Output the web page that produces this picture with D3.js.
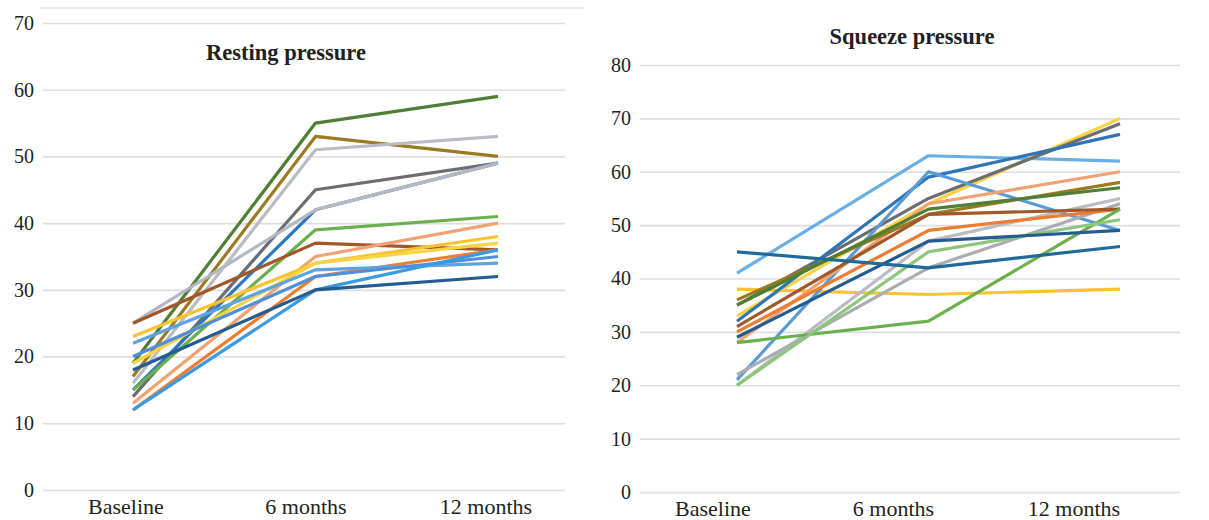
<!DOCTYPE html>
<html>
<head>
<meta charset="utf-8">
<script src="https://cdn.jsdelivr.net/npm/d3@7"></script>
<style>
  body { margin: 0; background: #fff; }
  svg { display: block; }
</style>
</head>
<body>
<svg id="chart" width="1209" height="520"></svg>
<script>
// categories (x axis)
var categories = ["Baseline", "6 months", "12 months"];

// resting pressure, one array per patient line
var restingValues = [
  [19, 55, 59], [17, 53, 50], [16, 51, 53], [14, 45, 49], [15, 42, 49],
  [25, 42, 49], [15, 39, 41], [25, 37, 36], [13, 35, 40], [23, 34, 38],
  [19, 34, 37], [12, 32, 36], [22, 33, 34], [20, 32, 35], [12, 30, 36],
  [18, 30, 32]
];
var restingColors = [
  "#4f7f34", "#9b7a22", "#b9bcc2", "#6b6e70", "#2a78c2",
  "#b3b8c2", "#6cb04e", "#a0582a", "#f0a274", "#f9c22e",
  "#fcd142", "#ed7d31", "#5ea3e0", "#4f8fd6", "#3a9be0",
  "#245c92"
];
var restingTicks = [0, 10, 20, 30, 40, 50, 60, 70];

// squeeze pressure
var squeezeValues = [
  [41, 63, 62], [38, 37, 38], [33, 54, 70], [35, 55, 69], [32, 59, 67],
  [21, 60, 49], [28, 54, 60], [36, 52, 58], [35, 53, 57], [20, 47, 55],
  [22, 42, 54], [30, 49, 53], [31, 52, 53], [28, 32, 53], [20, 45, 51],
  [29, 47, 49], [45, 42, 46]
];
var squeezeColors = [
  "#6aaee6", "#f9c22e", "#fcd142", "#6b6e70", "#2e75b6",
  "#5b9bd5", "#f0a274", "#9b7a22", "#4f7f34", "#b9bcc2",
  "#a9adb3", "#ed7d31", "#a0582a", "#6cb04e", "#8cc67a",
  "#245c92", "#1f6a98"
];
var squeezeTicks = [0, 10, 20, 30, 40, 50, 60, 70, 80];

var svg = d3.select("#chart");
var fontFam = "'Liberation Serif', 'DejaVu Serif', serif";

function drawLineChart(o) {
  var g = svg.append("g");

  var y = d3.scaleLinear().domain([0, o.max]).range([o.bottom, o.top]);
  var x = d3.scalePoint().domain(categories).range(o.xRange);
  // category labels sit a bit left of the points in the original
  var xLab = d3.scalePoint().domain(categories).range(o.labelRange);

  // gridlines + tick labels
  var yAxis = d3.axisLeft(y)
    .tickValues(o.ticks)
    .tickSize(-(o.gridRight - o.gridLeft))
    .tickPadding(9);

  g.append("g")
    .attr("transform", "translate(" + o.gridLeft + ",0)")
    .call(yAxis)
    .call(function(a) {
      a.select(".domain").remove();
      a.selectAll(".tick line").attr("stroke", "#dcdde1").attr("stroke-width", 1.6);
      a.selectAll(".tick text")
        .attr("fill", "#231f20")
        .style("font-family", fontFam)
        .style("font-size", "20px");
    });

  // x labels
  g.append("g")
    .selectAll("text")
    .data(categories)
    .enter()
    .append("text")
    .attr("x", function(d) { return xLab(d); })
    .attr("y", o.bottom + 24)
    .attr("text-anchor", "middle")
    .attr("fill", "#231f20")
    .style("font-family", fontFam)
    .style("font-size", "22px")
    .text(function(d) { return d; });

  // title
  g.append("text")
    .attr("x", o.titleX)
    .attr("y", o.titleY)
    .attr("text-anchor", "middle")
    .attr("fill", "#231f20")
    .style("font-family", fontFam)
    .style("font-size", "22.5px")
    .style("font-weight", "bold")
    .text(o.title);

  var line = d3.line()
    .x(function(d, i) { return x(categories[i]); })
    .y(function(d) { return y(d); });

  g.append("g")
    .selectAll("path")
    .data(o.values)
    .enter()
    .append("path")
    .attr("d", line)
    .attr("fill", "none")
    .attr("stroke", function(d, i) { return o.colors[i]; })
    .attr("stroke-width", 3.2)
    .attr("stroke-linejoin", "round");
}

// faint frame line on top of the left panel
svg.append("line")
  .attr("x1", 40).attr("x2", 585)
  .attr("y1", 8).attr("y2", 8)
  .attr("stroke", "#e6e7ea").attr("stroke-width", 1.5);

drawLineChart({
  title: "Resting pressure", titleX: 286, titleY: 60,
  values: restingValues, colors: restingColors, ticks: restingTicks,
  max: 70, top: 23, bottom: 490,
  gridLeft: 43, gridRight: 565,
  xRange: [133, 498], labelRange: [126, 486]
});

drawLineChart({
  title: "Squeeze pressure", titleX: 912, titleY: 44,
  values: squeezeValues, colors: squeezeColors, ticks: squeezeTicks,
  max: 80, top: 65, bottom: 492,
  gridLeft: 640, gridRight: 1180,
  xRange: [737, 1120], labelRange: [713, 1074]
});
</script>
</body>
</html>
